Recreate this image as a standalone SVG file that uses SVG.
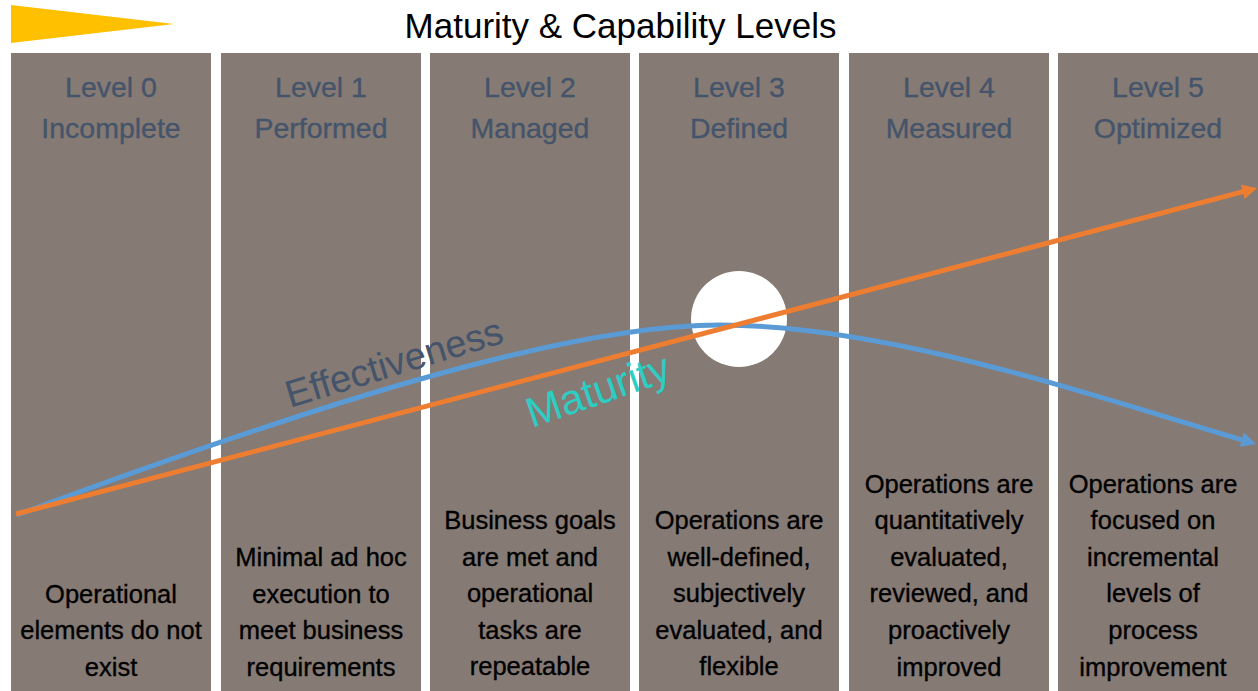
<svg xmlns="http://www.w3.org/2000/svg" width="1258" height="691" viewBox="0 0 1258 691">
  <style>
    .col { fill: #857A74; }
    .hdr { font-family: "Liberation Sans", Arial, sans-serif; font-size: 28.5px; fill: #44546A; stroke: #44546A; stroke-width: 0.3px; text-anchor: middle; }
    .desc { font-family: "Liberation Sans", Arial, sans-serif; font-size: 25.5px; fill: #000000; stroke: #000000; stroke-width: 0.35px; text-anchor: middle; }
    .title { font-family: "Liberation Sans", Arial, sans-serif; font-size: 35px; fill: #000000; text-anchor: middle; }
    .curve { font-family: "Liberation Sans", Arial, sans-serif; font-size: 38px; }
    .line { fill: none; stroke-width: 5; }
  </style>
  <defs>
    <marker id="headOrange" viewBox="0 0 10 10" refX="3" refY="5" markerWidth="3" markerHeight="3" orient="auto" markerUnits="strokeWidth">
      <path d="M0,0 L10,5 L0,10 z" fill="#ED7D31"/>
    </marker>
    <marker id="headBlue" viewBox="0 0 10 10" refX="3" refY="5" markerWidth="3" markerHeight="3" orient="auto" markerUnits="strokeWidth">
      <path d="M0,0 L10,5 L0,10 z" fill="#5B9BD5"/>
    </marker>
  </defs>

  <rect width="1258" height="691" fill="#FFFFFF"/>

  <!-- heading -->
  <polygon points="11,5 174,24 11,43" fill="#FFC000"/>
  <text class="title" x="620.5" y="38">Maturity &amp; Capability Levels</text>

  <g id="level0">
    <rect class="col" x="11" y="53" width="200" height="638"/>
    <text class="hdr" x="111" y="97">Level 0</text>
    <text class="hdr" x="111" y="138">Incomplete</text>
    <text class="desc" x="111" y="602.5">Operational<tspan x="111" dy="36.6">elements do not</tspan><tspan x="111" dy="36.6">exist</tspan></text>
  </g>

  <g id="level1">
    <rect class="col" x="221" y="53" width="200" height="638"/>
    <text class="hdr" x="321" y="97">Level 1</text>
    <text class="hdr" x="321" y="138">Performed</text>
    <text class="desc" x="321" y="566">Minimal ad hoc<tspan x="321" dy="36.6">execution to</tspan><tspan x="321" dy="36.6">meet business</tspan><tspan x="321" dy="36.6">requirements</tspan></text>
  </g>

  <g id="level2">
    <rect class="col" x="430" y="53" width="200" height="638"/>
    <text class="hdr" x="530" y="97">Level 2</text>
    <text class="hdr" x="530" y="138">Managed</text>
    <text class="desc" x="530" y="529">Business goals<tspan x="530" dy="36.6">are met and</tspan><tspan x="530" dy="36.6">operational</tspan><tspan x="530" dy="36.6">tasks are</tspan><tspan x="530" dy="36.6">repeatable</tspan></text>
  </g>

  <g id="level3">
    <rect class="col" x="639" y="53" width="200" height="638"/>
    <text class="hdr" x="739" y="97">Level 3</text>
    <text class="hdr" x="739" y="138">Defined</text>
    <text class="desc" x="739" y="529">Operations are<tspan x="739" dy="36.6">well-defined,</tspan><tspan x="739" dy="36.6">subjectively</tspan><tspan x="739" dy="36.6">evaluated, and</tspan><tspan x="739" dy="36.6">flexible</tspan></text>
  </g>

  <g id="level4">
    <rect class="col" x="849" y="53" width="200" height="638"/>
    <text class="hdr" x="949" y="97">Level 4</text>
    <text class="hdr" x="949" y="138">Measured</text>
    <text class="desc" x="949" y="492.5">Operations are<tspan x="949" dy="36.6">quantitatively</tspan><tspan x="949" dy="36.6">evaluated,</tspan><tspan x="949" dy="36.6">reviewed, and</tspan><tspan x="949" dy="36.6">proactively</tspan><tspan x="949" dy="36.6">improved</tspan></text>
  </g>

  <g id="level5">
    <rect class="col" x="1058" y="53" width="200" height="638"/>
    <text class="hdr" x="1158" y="97">Level 5</text>
    <text class="hdr" x="1158" y="138">Optimized</text>
    <text class="desc" x="1153" y="492.5">Operations are<tspan x="1153" dy="36.6">focused on</tspan><tspan x="1153" dy="36.6">incremental</tspan><tspan x="1153" dy="36.6">levels of</tspan><tspan x="1153" dy="36.6">process</tspan><tspan x="1153" dy="36.6">improvement</tspan></text>
  </g>

  <!-- crossover point -->
  <circle id="crossover" cx="739" cy="319" r="48" fill="#FFFFFF"/>

  <!-- curve labels -->
  <text class="curve" fill="#44546A" transform="translate(290,408) rotate(-17)">Effectiveness</text>
  <text class="curve" fill="#2DCDC4" style="font-size:42px" transform="translate(532,428) rotate(-19)">Maturity</text>

  <g id="connectors">
    <path class="line" stroke="#5B9BD5" d="M17,515 C297,411 560,325 720,325 C890,325 1096,397 1246,441" marker-end="url(#headBlue)"/>
    <path class="line" stroke="#ED7D31" d="M16,514 L1247,190.7" marker-end="url(#headOrange)"/>
  </g>
</svg>
